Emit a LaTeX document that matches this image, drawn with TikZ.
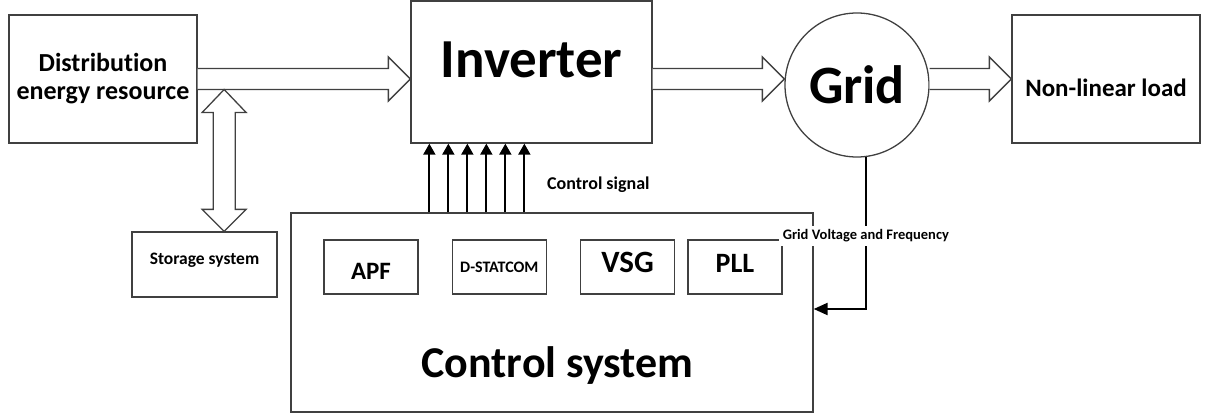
\documentclass[tikz,border=0pt]{standalone}
\usepackage{fontspec}
\setmainfont{Carlito}[Ligatures=CommonOff]
\usetikzlibrary{positioning,arrows.meta,calc}

\begin{document}
\begin{tikzpicture}[
    x=1pt, y=-1pt,
    box/.style={draw=black!75, line width=1.3pt, fill=white, align=center, inner sep=0pt, font=\bfseries},
    sub/.style={box, minimum width=94pt, minimum height=54pt, text height=15pt, text depth=5pt},
    lbl/.style={inner sep=1pt, font=\fontsize{18}{20}\selectfont\bfseries},
    fat/.style={draw=black!75, line width=1.3pt, fill=white, to path={let \p1=(\tikztostart), \p2=(\tikztotarget) in
        (\x1,\y1+10.5pt) -- (\x2-22pt,\y1+10.5pt) -- (\x2-22pt,\y1+22pt) -- (\x2,\y1)
        -- (\x2-22pt,\y1-22pt) -- (\x2-22pt,\y1-10.5pt) -- (\x1,\y1-10.5pt)}},
    dfat/.style={draw=black!75, line width=1.3pt, fill=white, to path={let \p1=(\tikztostart), \p2=(\tikztotarget) in
        (\x1,\y1) -- (\x1-22pt,\y1-23pt) -- (\x1-11pt,\y1-23pt) -- (\x1-11pt,\y2+22pt) -- (\x1-22pt,\y2+22pt)
        -- (\x1,\y2) -- (\x1+22pt,\y2+22pt) -- (\x1+11pt,\y2+22pt) -- (\x1+11pt,\y1-23pt) -- (\x1+22pt,\y1-23pt) -- cycle}},
    sig/.style={-{Triangle[length=11pt,width=12pt]}, line width=1.8pt},
    fb/.style={-{Triangle[length=14pt,width=12pt]}, line width=2.2pt}
]
\useasboundingbox (0,0) rectangle (1207,417);

% Nodes
\node[box, minimum width=188pt, minimum height=128pt, font=\fontsize{26}{28}\selectfont\bfseries] (der) at (103,79) {Distribution\\energy resource};
\node[box, minimum width=241pt, minimum height=142pt, text height=35pt, text depth=24pt, font=\fontsize{55}{60}\selectfont\bfseries] (inv) at (531.5,72) {Inverter};
\node[draw=black!75, circle, line width=1.3pt, minimum size=144pt, inner sep=0pt, font=\fontsize{54}{60}\selectfont\bfseries] (grid) at (857,85) {Grid};
\node[box, minimum width=188pt, minimum height=128pt, text height=36pt, text depth=0pt, font=\fontsize{25}{28}\selectfont\bfseries] (load) at (1106,79) {Non-linear load};
\node[box, minimum width=145pt, minimum height=65pt, text height=10pt, text depth=11pt, font=\fontsize{17.5}{20}\selectfont\bfseries] (store) at (204.5,264.5) {Storage system};
\node[box, minimum width=522pt, minimum height=199pt] (ctrl) at (552,312.5) {};
\node[anchor=base, font=\fontsize{44}{50}\selectfont\bfseries] (ctrltxt) at ([xshift=5.5pt, yshift=-64.5pt]ctrl.center) {Control system};
\node[sub, text height=24pt, text depth=0pt, font=\fontsize{25}{28}\selectfont\bfseries] (apf) at (371,267) {APF};
\node[sub, right=33pt of apf, font=\fontsize{16}{18}\selectfont\bfseries] (dstat) {D-STATCOM};
\node[sub, right=33pt of dstat, font=\fontsize{31}{34}\selectfont\bfseries] (vsg) {VSG};
\node[sub, right=12pt of vsg, font=\fontsize{28}{32}\selectfont\bfseries] (pll) {PLL};
\node[lbl, anchor=west] (csig) at (546,184.5) {Control signal};
\coordinate (tap) at ([xshift=26.5pt, yshift=-10.5pt]der.east);

% Arrows
\draw[fat] (der.east) to (der.east -| inv.west);
\draw[fat] (der.east -| inv.east) to (der.east -| grid.west);
\draw[fat] (der.east -| grid.east) to (der.east -| load.west);
\draw[dfat] (tap) to (tap |- store.north);
\foreach \dx in {19,38,...,114}
    \draw[sig] ($(inv.south west |- ctrl.north)+(\dx,0)$) -- ($(inv.south west)+(\dx,0)$);
\draw[fb] (grid.-83) |- node[lbl, pos=0.26, fill=white, inner sep=4pt, font=\fontsize{14.5}{16}\selectfont\bfseries] (gvf) {Grid Voltage and Frequency} ([yshift=3.5pt]ctrl.east);

\end{tikzpicture}
\end{document}
